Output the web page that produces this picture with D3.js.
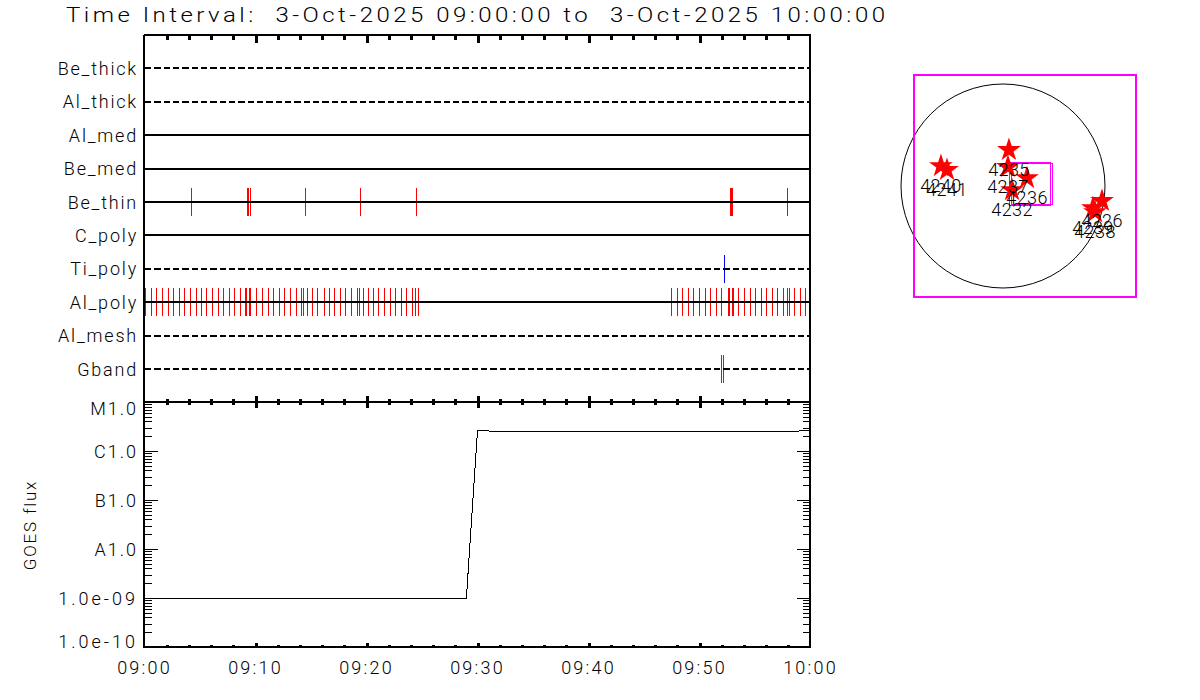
<!DOCTYPE html>
<html><head><meta charset="utf-8">
<script src="https://cdn.jsdelivr.net/npm/d3@7"></script>
<style>
html,body{margin:0;padding:0;background:#fff}
svg{display:block}
text{font-family:"Roboto","Liberation Sans",sans-serif;font-weight:300;fill:#000;white-space:pre}
</style></head><body>
<svg id="c" width="1200" height="700"></svg>
<script>
const titleText = "Time Interval:  3-Oct-2025 09:00:00 to  3-Oct-2025 10:00:00";
const channels = ["Be_thick","Al_thick","Al_med","Be_med","Be_thin","C_poly","Ti_poly","Al_poly","Al_mesh","Gband"];
const dashedChannels = ["Be_thick","Al_thick","Ti_poly","Al_mesh","Gband"];
// event minutes after 09:00
const beThinEvents = [4.22,9.26,9.35,9.53,14.49,19.44,24.49,52.79,52.88,52.97,57.91];
const tiPolyEvents = [52.24];
const alPolyEvents = [0.08,0.62,1.13,1.61,2.15,2.63,3.14,3.59,4.13,4.67,5.12,5.57,6.11,6.65,7.10,7.64,8.12,8.63,9.08,9.17,9.44,9.59,10.07,10.62,11.16,11.64,12.15,12.63,13.14,13.65,14.13,14.37,14.67,15.12,15.57,16.20,16.65,17.10,17.67,18.15,18.63,19.17,19.41,19.71,20.17,20.62,21.13,21.61,22.15,22.63,23.14,23.62,24.13,24.40,24.67,
47.46,48.00,48.45,48.99,49.44,49.98,50.53,50.98,51.52,52.03,52.60,52.69,52.97,53.05,53.50,54.04,54.55,55.03,55.57,56.02,56.56,57.01,57.55,57.91,58.09,58.54,59.08,59.53];
const gbandEvents = [52.0,52.15];
const fluxMinutes = [0,29,30,31.5,58.5,60];
const fluxValues = [1e-9,1e-9,2.64e-6,2.52e-6,2.52e-6,2.64e-6];
const fluxTickValues = [1e-5,1e-6,1e-7,1e-8,1e-9,1e-10];
const fluxTickLabels = ["M1.0","C1.0","B1.0","A1.0","1.0e-09","1.0e-10"];
const regionNames = ["4240","4241","4235","4237","4236","4232","4226","4239","4238"];
const regionX = [-584,-527,56,47,226,85,932,847,866];
const regionY = [188,151,339,179,75,-38,-141,-207,-245];
const fovBoxes = [[-842,1250,1045,-1045,2],[61,447,221,-184,1],[80,466,212,-174,1]];

const svg = d3.select("#c");
const t = m => new Date(Date.UTC(2025,9,3,9,0,m*60));
const x = d3.scaleUtc().domain([t(0),t(60)]).range([144.5,810.5]);
const yCh = d3.scalePoint().domain(channels).range([35.1,402.4]).padding(1);
const yFlux = d3.scaleLog().domain([1e-10,1e-5]).range([647,402]);
const sx = d3.scaleLinear().domain([-960,960]).range([901,1105]);
const sy = d3.scaleLinear().domain([-960,960]).range([288,84]);
const px = m => Math.floor(x(t(m)))+0.5;
const chY = c => Math.round(yCh(c));

// event ticks
const ev = svg.append("g").attr("shape-rendering","crispEdges");
[["Be_thin",beThinEvents,"#f00"],["Ti_poly",tiPolyEvents,"#00f"],["Al_poly",alPolyEvents,"#f00"],["Gband",gbandEvents,"#f00"]].forEach(([c,arr,col])=>{
  ev.selectAll(null).data(arr).join("line")
    .attr("x1",px).attr("x2",px)
    .attr("y1",chY(c)-14).attr("y2",chY(c)+14)
    .attr("stroke",col).attr("stroke-width",1);
});

// channel lines
svg.append("g").attr("shape-rendering","crispEdges").selectAll("line").data(channels).join("line")
  .attr("x1",145).attr("x2",810)
  .attr("y1",chY).attr("y2",chY)
  .attr("stroke","#000").attr("stroke-width",2)
  .attr("stroke-dasharray",d=>dashedChannels.includes(d)?"6.33 3":null);

// frames
const frame = svg.append("g").attr("shape-rendering","crispEdges").attr("stroke","#000").attr("stroke-width",2).attr("fill","none");
frame.append("path").attr("d",d3.line()([[144,35],[810,35],[810,647],[144,647],[144,35]]));
frame.append("path").attr("d",d3.line()([[144,402],[810,402]]));

// time ticks
const minorT = d3.range(2,60,2).filter(m=>m%10).map(t);
const majorT = d3.range(0,61,10).map(t);
function timeTicks(y,vals,len,gen){
  const g = svg.append("g").attr("transform",`translate(0,${y})`).attr("shape-rendering","crispEdges")
    .call(gen(x).tickValues(vals).tickSize(len).tickFormat(""));
  g.select(".domain").remove();
  g.selectAll("line").attr("stroke","#000").attr("stroke-width",3);
}
timeTicks(35,minorT,5,d3.axisBottom);
timeTicks(35,majorT.slice(1,-1),8,d3.axisBottom);
timeTicks(405,minorT,6,d3.axisTop);
timeTicks(408,majorT.slice(1,-1),12,d3.axisTop);
timeTicks(647,minorT,2.5,d3.axisTop);
timeTicks(647,majorT.slice(1,-1),4.5,d3.axisTop);

// flux axis minor ticks
const minorF = [];
for(let e=-10;e<-5;e++) for(let k=2;k<10;k++) minorF.push(+(k+"e"+e));
function fluxTicks(xp,vals,len,gen){
  const g = svg.append("g").attr("transform",`translate(${xp},0)`).attr("shape-rendering","crispEdges")
    .call(gen(yFlux).tickValues(vals).tickSize(len).tickFormat(""));
  g.select(".domain").remove();
  g.selectAll("line").attr("stroke","#000").attr("stroke-width",1);
}
fluxTicks(145,minorF,7,d3.axisRight);
fluxTicks(145,fluxTickValues.slice(1,-1),13,d3.axisRight);
fluxTicks(810,minorF,7,d3.axisLeft);
fluxTicks(810,fluxTickValues.slice(1,-1),13,d3.axisLeft);

// flux line
svg.append("path").datum(d3.zip(fluxMinutes,fluxValues))
  .attr("fill","none").attr("stroke","#000").attr("stroke-width",1).attr("shape-rendering","crispEdges")
  .attr("d",d3.line().x(d=>x(t(d[0]))).y(d=>yFlux(d[1])));

// text
svg.append("text").attr("transform","translate(66,22) scale(1.2,1)").attr("font-size",20)
  .attr("textLength",819/1.2).attr("lengthAdjust","spacing").text(titleText);
svg.append("g").selectAll("text").data(channels).join("text")
  .attr("x",138).attr("y",d=>yCh(d)+6.5).attr("text-anchor","end")
  .attr("font-size",18).attr("letter-spacing",1.8).text(d=>d);
svg.append("g").selectAll("text").data(fluxTickValues).join("text")
  .attr("x",138).attr("y",d=>Math.max(408,Math.min(641,yFlux(d)))+6.5).attr("text-anchor","end")
  .attr("font-size",18).attr("letter-spacing",(d,i)=>fluxTickLabels[i].length>4?3:2).text((d,i)=>fluxTickLabels[i]);
svg.append("g").selectAll("text").data(majorT).join("text")
  .attr("x",d=>x(d)).attr("y",674).attr("text-anchor","middle")
  .attr("font-size",18).attr("letter-spacing",2.2).text(d3.utcFormat("%H:%M"));
svg.append("text").attr("transform","translate(36,525) rotate(-90)").attr("text-anchor","middle")
  .attr("font-size",17).attr("letter-spacing",1.8).text("GOES flux");

// solar map
const map = svg.append("g");
map.append("circle").attr("cx",sx(0)).attr("cy",sy(0)).attr("r",sx(960)-sx(0))
  .attr("fill","none").attr("stroke","#000").attr("stroke-width",1);
map.selectAll("rect").data(fovBoxes).join("rect")
  .attr("x",d=>sx(d[0])).attr("width",d=>sx(d[1])-sx(d[0]))
  .attr("y",d=>sy(d[2])).attr("height",d=>sy(d[3])-sy(d[2]))
  .attr("fill","none").attr("stroke","#f0f").attr("stroke-width",d=>d[4]).attr("shape-rendering","crispEdges");
const star = d3.symbol(d3.symbolStar,175);
map.selectAll("path.star").data(regionNames).join("path").attr("class","star")
  .attr("d",star).attr("fill","#f00")
  .attr("transform",(d,i)=>`translate(${sx(regionX[i])},${sy(regionY[i])})`);
map.selectAll("text").data(regionNames).join("text")
  .attr("x",(d,i)=>sx(regionX[i])).attr("y",(d,i)=>sy(regionY[i])+26)
  .attr("text-anchor","middle").attr("font-size",18).attr("letter-spacing",0.4).text(d=>d);
</script>
</body></html>
